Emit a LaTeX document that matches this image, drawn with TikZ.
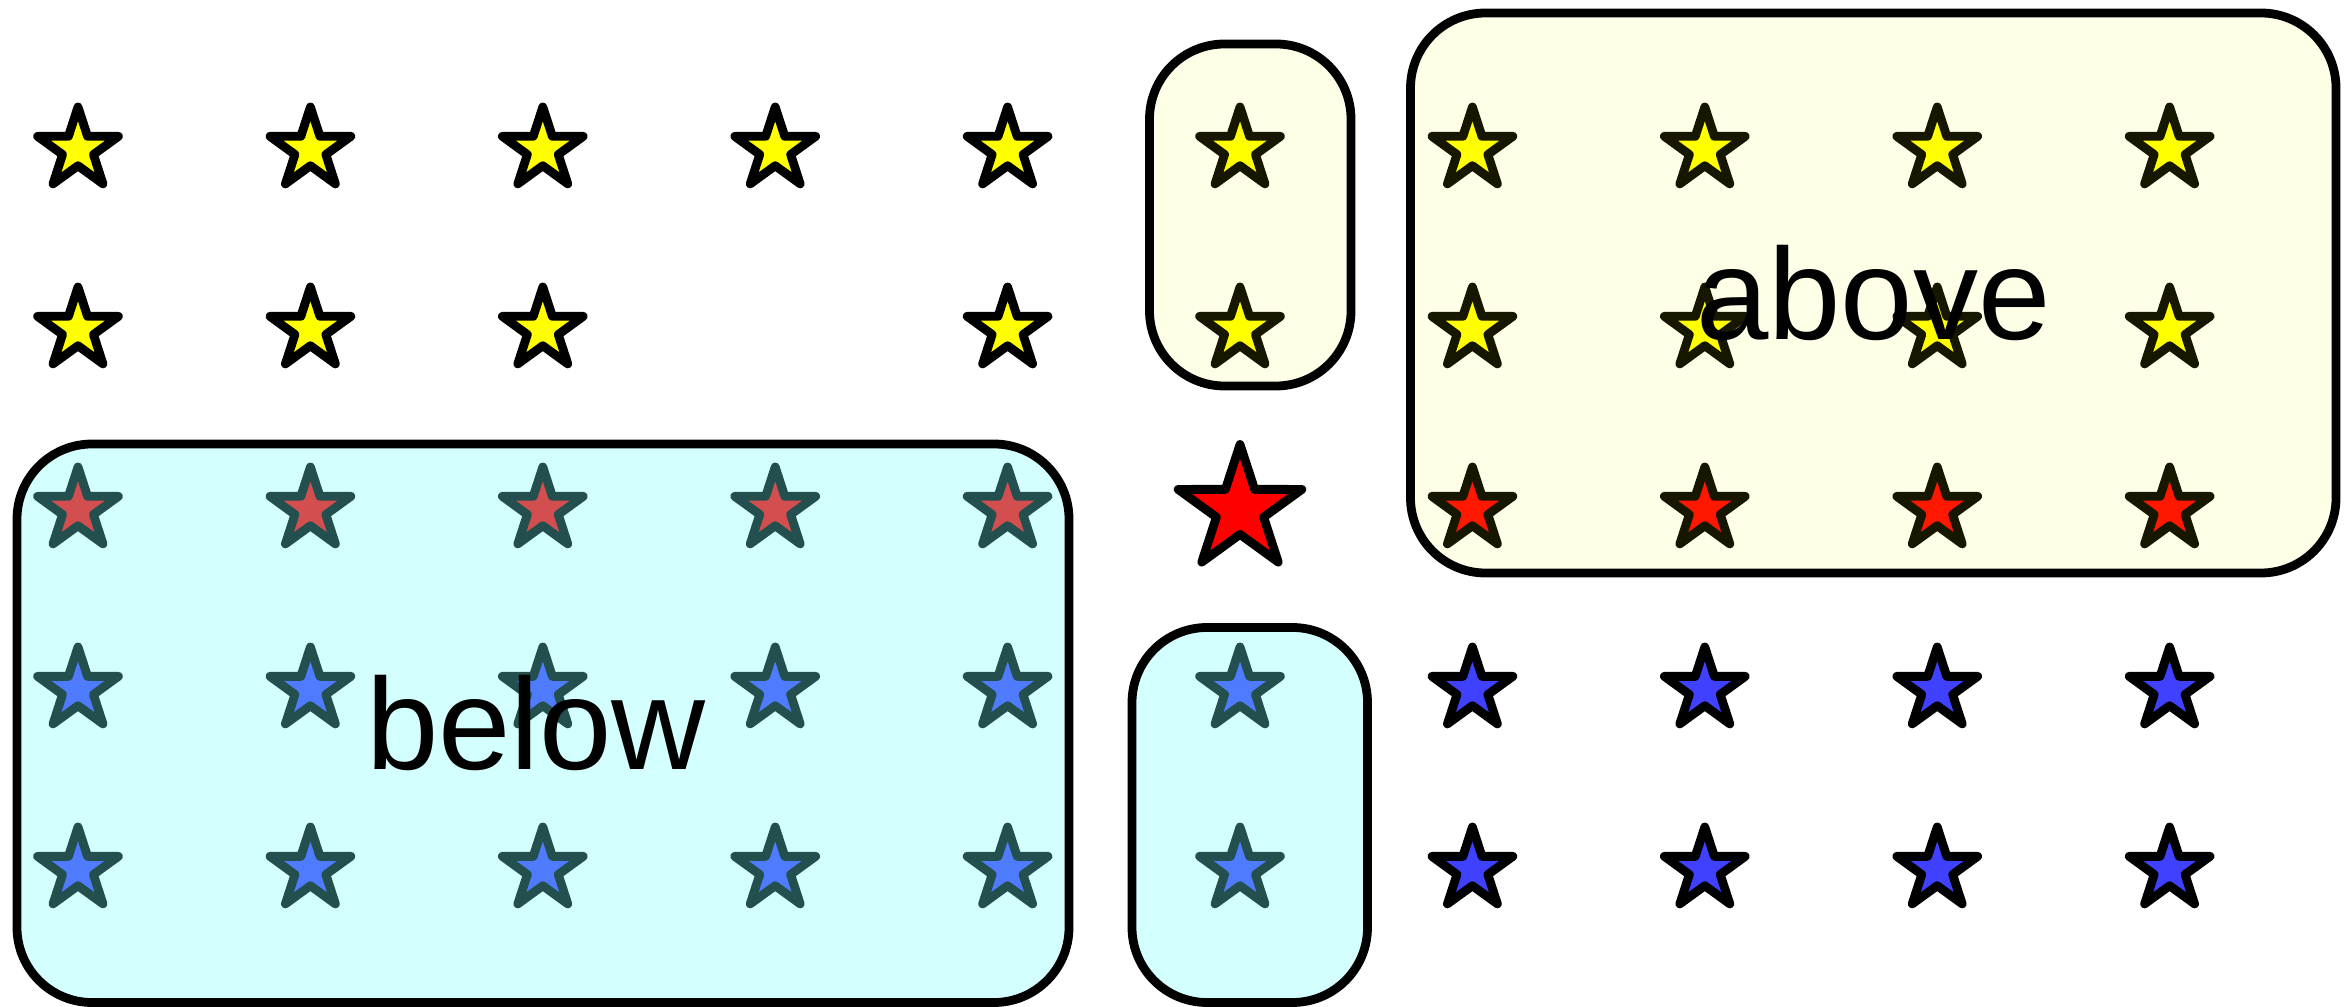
\documentclass[tikz,border=0pt]{standalone}
\usepackage{fontspec}
\newfontfamily\boxfont{Liberation Sans}
\usepackage{tikz}
\usetikzlibrary{shapes.geometric,fit}

\definecolor{staryellow}{RGB}{255,255,0}
\definecolor{starred}{RGB}{255,0,0}
\definecolor{starblue}{RGB}{64,64,255}
\definecolor{boxyellow}{RGB}{255,255,0}
\definecolor{boxcyan}{RGB}{115,255,255}

\begin{document}
\begin{tikzpicture}[x=0.01cm,y=-0.01cm,
  starnode/.style={star,star points=5,star point ratio=2.618,inner sep=0pt,
    draw=black,line width=2.5pt,line join=round,minimum size=0.85cm},
  bigstar/.style={starnode,minimum size=1.3cm},
  groupbox/.style={draw=black,line width=2.5pt,rounded corners=0.75cm,inner sep=0pt,
    fill opacity=#1},
  boxlabel/.style={inner sep=0pt,font=\boxfont\fontsize{37}{40}\selectfont}]
\useasboundingbox (0,0) rectangle (2349,1007);

% yellow rows (one gap in the second)
\foreach \c in {0,...,9}
  \node[starnode,fill=staryellow] (s1-\c) at ({78+232.4*\c},149.5) {};
\foreach \c in {0,1,2,4,5,6,7,8,9}
  \node[starnode,fill=staryellow] (s2-\c) at ({78+232.4*\c},329.5) {};

% red row, big one in the middle
\foreach \c in {0,1,2,3,4,6,7,8,9}
  \node[starnode,fill=starred] (s3-\c) at ({78+232.4*\c},509.5) {};
\node[bigstar,fill=starred] (s3-5) at (1240,509.5) {};

% blue rows
\foreach \c in {0,...,9}{
  \node[starnode,fill=starblue] (s4-\c) at ({78+232.4*\c},689.5) {};
  \node[starnode,fill=starblue] (s5-\c) at ({78+232.4*\c},869.5) {};
}

% boxes on top
\node[groupbox=0.09,fill=boxyellow,fit={(1149.5,44) (1351,386)}] (upsmall) {};
\node[groupbox=0.09,fill=boxyellow,fit={(1410.5,13) (2336,573)}] (upbig) {};
\node[groupbox=0.31,fill=boxcyan,fit={(17,444) (1069,1002.5)}] (lowbig) {};
\node[groupbox=0.31,fill=boxcyan,fit={(1132,627.5) (1367.5,1002.5)}] (lowsmall) {};

\node[boxlabel] (abovetext) at (upbig.center) {above};
\node[boxlabel,xshift=-0.07cm] (belowtext) at (lowbig.center) {below};
\end{tikzpicture}
\end{document}
